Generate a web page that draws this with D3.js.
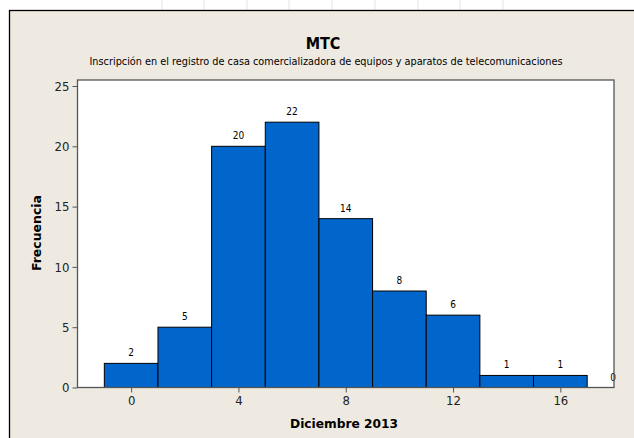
<!DOCTYPE html>
<html><head><meta charset="utf-8">
<script src="https://cdn.jsdelivr.net/npm/d3@7"></script>
<style>html,body{margin:0;padding:0;background:#fff;}svg{display:block;}</style>
</head><body>
<script>
const binCenters = [0, 2, 4, 6, 8, 10, 12, 14, 16, 18];
const counts = [2, 5, 20, 22, 14, 8, 6, 1, 1, 0];
const xTicks = [0, 4, 8, 12, 16];
const yTicks = [0, 5, 10, 15, 20, 25];
const title = "MTC";
const subtitle = "Inscripción en el registro de casa comercializadora de equipos y aparatos de telecomunicaciones";
const xLabel = "Diciembre 2013";
const yLabel = "Frecuencia";
const binWidth = 2;

const W = 634, H = 438;
const svg = d3.select("body").append("svg").attr("width", W).attr("height", H);
const font = "Tahoma, 'DejaVu Sans Condensed', 'DejaVu Sans', sans-serif";

// spreadsheet grid lines at top
[162, 204, 247, 289, 332, 375, 418, 460, 503].forEach(x => {
  svg.append("line").attr("x1", x).attr("x2", x).attr("y1", 0).attr("y2", 10)
    .attr("stroke", "#e4e4e4").attr("stroke-width", 1);
});

// chart background
svg.append("rect").attr("x", 9.5).attr("y", 10.5).attr("width", 640).attr("height", 440)
  .attr("fill", "#EEEAE1").attr("stroke", "#000").attr("stroke-width", 1.3);

const L = 77.5, R = 614, T = 80, B = 387.5;
const x = d3.scaleLinear().domain([-2, 18]).range([L, R]);
const y = d3.scaleLinear().domain([0, 25]).range([B, B - 301.5]);

svg.append("rect").attr("x", L).attr("y", T).attr("width", R - L).attr("height", B - T)
  .attr("fill", "#fff");

svg.append("g").selectAll("rect").data(counts.map((c, i) => ({c, m: binCenters[i]})).filter(d => d.c > 0))
  .join("rect")
  .attr("x", d => x(d.m - binWidth / 2))
  .attr("width", d => x(d.m + binWidth / 2) - x(d.m - binWidth / 2))
  .attr("y", d => y(d.c))
  .attr("height", d => y(0) - y(d.c))
  .attr("fill", "#0066CC").attr("stroke", "#000").attr("stroke-width", 1);

svg.append("g").selectAll("text").data(counts.map((c, i) => ({c, m: binCenters[i]})))
  .join("text")
  .attr("x", d => x(d.m) - (d.m === 18 ? 1 : 0))
  .attr("y", d => y(d.c) - 7)
  .attr("text-anchor", "middle")
  .attr("font-family", font).attr("font-size", 10).attr("fill", "#000")
  .text(d => d.c);

// frame
svg.append("rect").attr("x", L).attr("y", T).attr("width", R - L).attr("height", B - T)
  .attr("fill", "none").attr("stroke", "#555").attr("stroke-width", 1.3);

const xAxis = svg.append("g").attr("transform", `translate(0,${B})`)
  .call(d3.axisBottom(x).tickValues(xTicks).tickSize(5).tickPadding(3).tickSizeOuter(0));
xAxis.select(".domain").remove();
xAxis.selectAll("line").attr("stroke", "#555");
xAxis.selectAll("text").attr("font-family", font).attr("font-size", 13).attr("fill", "#222");

const yAxis = svg.append("g").attr("transform", `translate(${L},0)`)
  .call(d3.axisLeft(y).tickValues(yTicks).tickSize(5).tickPadding(3).tickSizeOuter(0));
yAxis.select(".domain").remove();
yAxis.selectAll("line").attr("stroke", "#555");
yAxis.selectAll("text").attr("font-family", font).attr("font-size", 13).attr("fill", "#222");

svg.append("text").attr("x", 323).attr("y", 49).attr("text-anchor", "middle")
  .attr("font-family", font).attr("font-size", 16).attr("font-weight", "bold").text(title);
svg.append("text").attr("x", 326).attr("y", 65).attr("text-anchor", "middle")
  .attr("font-family", font).attr("font-size", 10)
  .attr("textLength", 473).attr("lengthAdjust", "spacingAndGlyphs").text(subtitle);
svg.append("text").attr("x", 344).attr("y", 428).attr("text-anchor", "middle")
  .attr("font-family", font).attr("font-size", 13).attr("font-weight", "bold")
  .attr("textLength", 108).attr("lengthAdjust", "spacingAndGlyphs").text(xLabel);
svg.append("text").attr("transform", "translate(41,233) rotate(-90)").attr("text-anchor", "middle")
  .attr("font-family", font).attr("font-size", 13).attr("font-weight", "bold")
  .attr("textLength", 76).attr("lengthAdjust", "spacingAndGlyphs").text(yLabel);
</script>
</body></html>
